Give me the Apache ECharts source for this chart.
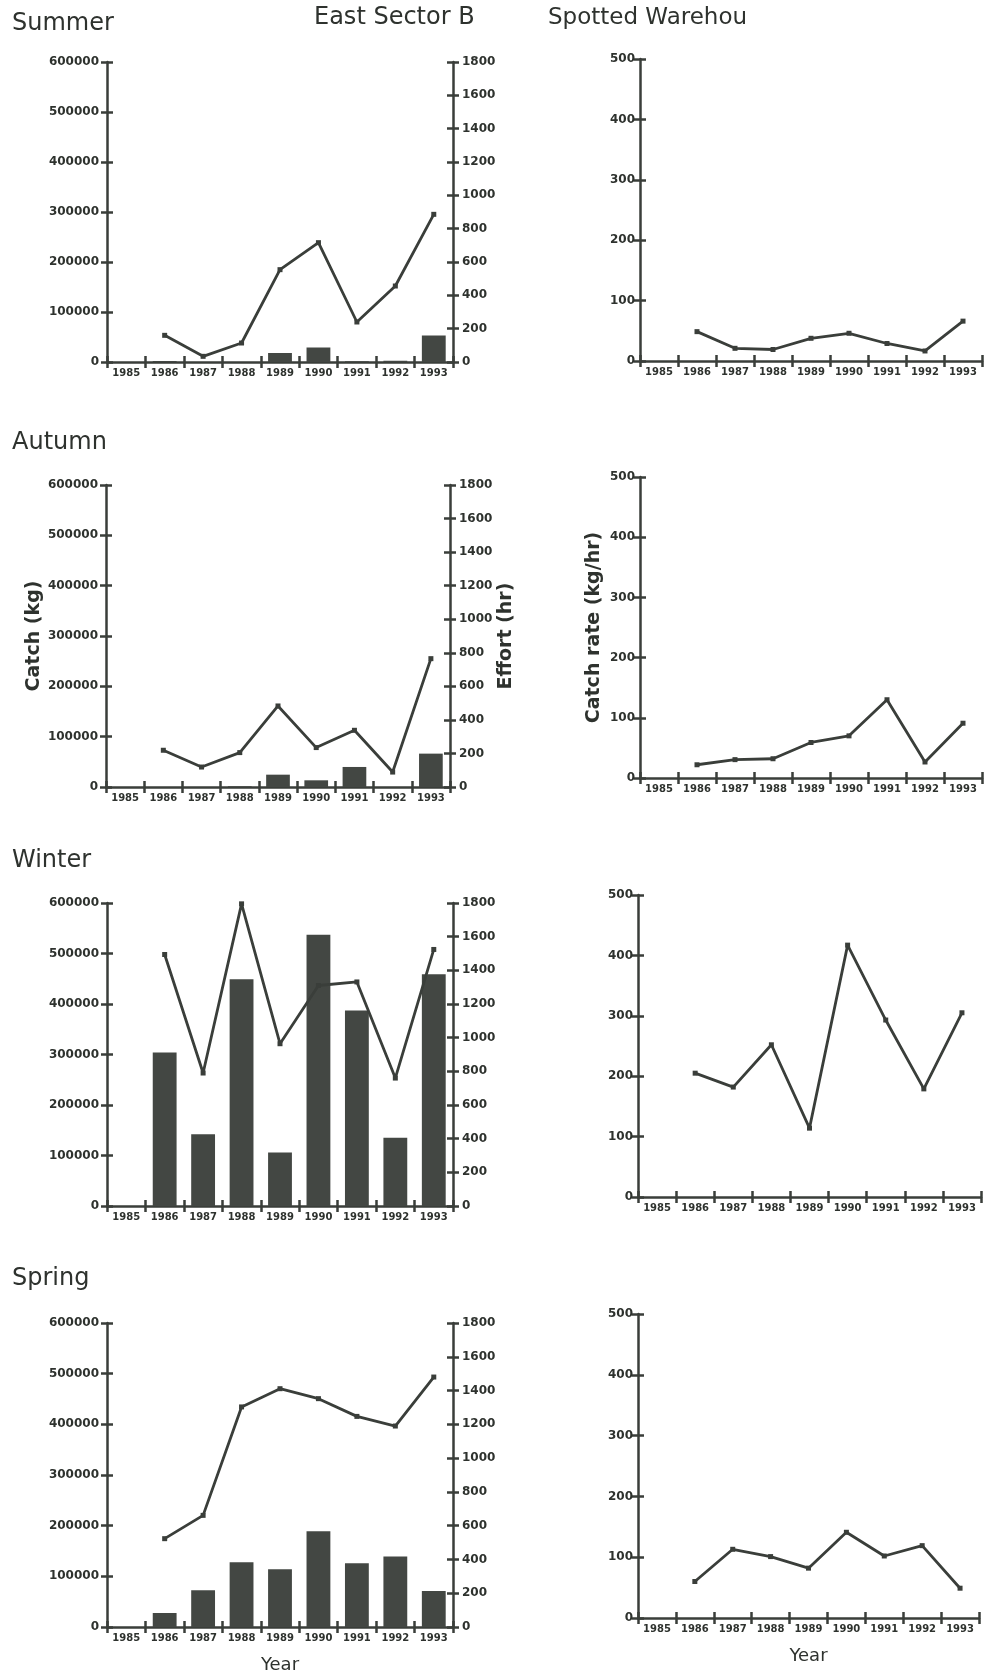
<!DOCTYPE html>
<html>
<head>
<meta charset="utf-8">
<script src="https://cdn.jsdelivr.net/npm/echarts@6/dist/echarts.min.js"></script>
<style>
html,body{margin:0;padding:0;background:#fff;}
#c{width:987px;height:1676px;}
</style>
</head>
<body>
<div id="c"></div>
<script>
const years = ['1985','1986','1987','1988','1989','1990','1991','1992','1993'];

const summerCatch = [null, 2000, 0, 0, 18000, 29000, 1500, 2500, 53000];
const autumnCatch = [null, 0, 0, 1500, 24500, 13300, 39800, 0, 66300];
const winterCatch = [null, 304000, 142000, 449000, 106000, 537000, 387000, 135000, 459000];
const springCatch = [null, 27600, 72400, 128000, 114000, 189000, 126000, 139000, 71000];

const summerEffort = [null, 160, 34, 114, 554, 716, 240, 456, 886];
const autumnEffort = [null, 219, 119, 205, 483, 235, 338, 89, 765];
const winterEffort = [null, 1494, 790, 1795, 964, 1310, 1331, 760, 1524];
const springEffort = [null, 523, 661, 1303, 1411, 1352, 1247, 1190, 1480];

const summerRate = [null, 48.6, 21, 19, 37.6, 45.9, 29, 16.6, 66];
const autumnRate = [null, 22, 30.5, 32, 59, 70, 130, 26.6, 91];
const winterRate = [null, 205, 182, 252, 114, 417, 293, 179, 305];
const springRate = [null, 60, 113, 101, 82, 141, 102, 119, 49];

const seasonTitles = ['Summer', 'Autumn', 'Winter', 'Spring'];
const headerLeft = 'East Sector B';
const headerRight = 'Spotted Warehou';
const catchName = 'Catch (kg)';
const effortName = 'Effort (hr)';
const rateName = 'Catch rate (kg/hr)';
const xName = 'Year';

const INK = '#3a3e3a';
const TXT = '#2e322e';
const FONT = 'DejaVu Sans';

const leftGrids = [
  {left:107, top:62, width:346, height:300},
  {left:106, top:485, width:344, height:302},
  {left:107, top:903, width:346, height:303},
  {left:107, top:1323, width:346, height:304}
];
const rightGrids = [
  {left:640, top:59, width:342, height:302},
  {left:640, top:477, width:342, height:301},
  {left:638, top:895, width:343, height:302},
  {left:638, top:1314, width:341, height:304}
];

const catchSets = [summerCatch, autumnCatch, winterCatch, springCatch];
const effortSets = [summerEffort, autumnEffort, winterEffort, springEffort];
const rateSets = [summerRate, autumnRate, winterRate, springRate];

const option = {
  animation: false,
  backgroundColor: '#fff',
  grid: [], xAxis: [], yAxis: [], series: [], graphic: []
};

function addX(gi, inside, withName) {
  const ax = {
    type: 'category', gridIndex: gi, data: years, position: 'bottom',
    boundaryGap: true,
    axisLine: {show: !inside, onZero: false, lineStyle: {color: INK, width: 2.5}},
    axisTick: {show: true, inside: inside, length: 6, alignWithLabel: false, interval: 0, lineStyle: {color: INK, width: 2.5}},
    axisLabel: {show: !inside, interval: 0, margin: 6, fontSize: 10, fontWeight: 'bold', color: TXT, fontFamily: FONT},
    splitLine: {show: false}
  };
  if (withName && !inside) {
    ax.name = xName; ax.nameLocation = 'middle'; ax.nameGap = 29;
    ax.nameTextStyle = {fontSize: 18, color: TXT, fontFamily: FONT};
  }
  option.xAxis.push(ax);
  return option.xAxis.length - 1;
}

function addY(gi, pos, max, interval, inside, margin, name, nameGap) {
  const ax = {
    type: 'value', gridIndex: gi, position: pos, min: 0, max: max, interval: interval,
    axisLine: {show: !inside, lineStyle: {color: INK, width: 2.5}},
    axisTick: {show: true, inside: inside, length: 6, lineStyle: {color: INK, width: 2.5}},
    axisLabel: {show: !inside, margin: margin, fontSize: 12, fontWeight: 'bold', color: TXT, fontFamily: FONT,
      formatter: function (v) { return String(v); }},
    splitLine: {show: false}
  };
  if (name && !inside) {
    ax.name = name; ax.nameLocation = 'middle'; ax.nameGap = nameGap; ax.nameRotate = 90;
    ax.nameTextStyle = {fontSize: 19, fontWeight: 'bold', color: TXT, fontFamily: FONT};
  }
  option.yAxis.push(ax);
  return option.yAxis.length - 1;
}

for (let s = 0; s < 4; s++) {
  option.grid.push(Object.assign({}, leftGrids[s]));
  let gi = option.grid.length - 1;
  let xi = addX(gi, false, s === 3);
  addX(gi, true, false);
  let yl = addY(gi, 'left', 600000, 100000, false, 8, s === 1 ? catchName : null, 62);
  addY(gi, 'left', 600000, 100000, true, 8, null, 0);
  let yr = addY(gi, 'right', 1800, 200, false, 9, s === 1 ? effortName : null, 45);
  addY(gi, 'right', 1800, 200, true, 9, null, 0);
  option.series.push({
    type: 'bar', xAxisIndex: xi, yAxisIndex: yl, data: catchSets[s], barWidth: '62%',
    itemStyle: {color: '#434743'}, z: 2
  });
  option.series.push({
    type: 'line', xAxisIndex: xi, yAxisIndex: yr, data: effortSets[s],
    symbol: 'rect', symbolSize: 5, showSymbol: true,
    lineStyle: {color: INK, width: 2.8}, itemStyle: {color: INK}, z: 3
  });

  option.grid.push(Object.assign({}, rightGrids[s]));
  gi = option.grid.length - 1;
  xi = addX(gi, false, s === 3);
  addX(gi, true, false);
  let yi = addY(gi, 'left', 500, 100, false, 5, s === 1 ? rateName : null, 36);
  addY(gi, 'left', 500, 100, true, 5, null, 0);
  option.series.push({
    type: 'line', xAxisIndex: xi, yAxisIndex: yi, data: rateSets[s],
    symbol: 'rect', symbolSize: 5, showSymbol: true,
    lineStyle: {color: INK, width: 2.8}, itemStyle: {color: INK}, z: 3
  });
}

const titleBaselines = [34, 453, 871, 1289];
function addText(text, x, baseline, size) {
  option.graphic.push({
    type: 'text', left: x, top: baseline - Math.round(size * 0.93),
    style: {text: text, font: size + 'px "' + FONT + '"', fill: TXT}
  });
}
for (let s = 0; s < 4; s++) addText(seasonTitles[s], 12, titleBaselines[s], 24);
addText(headerLeft, 314, 28, 24);
addText(headerRight, 548, 28, 23);

const chart = echarts.init(document.getElementById('c'), null, {renderer: 'canvas'});
chart.setOption(option);
</script>
</body>
</html>
